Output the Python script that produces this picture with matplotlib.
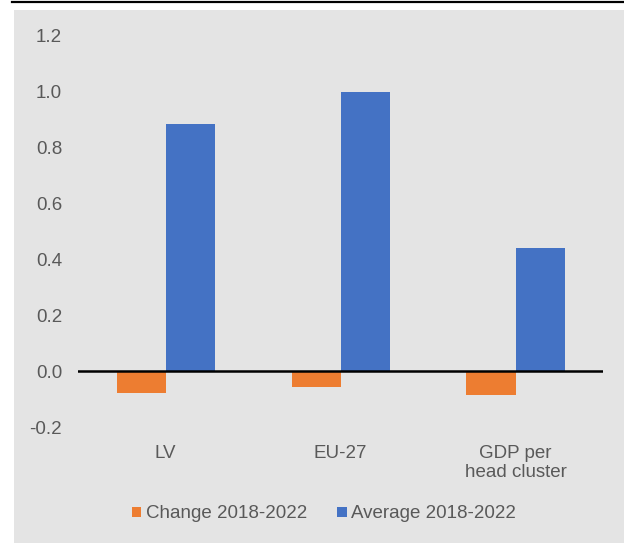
import matplotlib
matplotlib.use("Agg")
import matplotlib.pyplot as plt
from matplotlib.patches import Rectangle
from matplotlib.lines import Line2D
import numpy as np

categories = ["LV", "EU-27", "GDP per\nhead cluster"]
change_2018_2022 = [-0.080, -0.058, -0.087]
average_2018_2022 = [0.885, 1.0, 0.44]
yticks = [-0.2, 0.0, 0.2, 0.4, 0.6, 0.8, 1.0, 1.2]

plt.rcParams["font.family"] = ["Liberation Sans", "DejaVu Sans"]
text_color = "#595959"
orange = "#ED7D31"
blue = "#4472C4"
panel = "#E4E4E4"

fig = plt.figure(figsize=(6.24, 5.43), dpi=100)
fig.patch.set_facecolor("white")

# grey chart panel and the rule above it
fig.patches.append(Rectangle((14 / 624, 0), 1 - 14 / 624, 1 - 10 / 543,
                             transform=fig.transFigure, facecolor=panel,
                             edgecolor="none", zorder=-10))
fig.lines.append(Line2D([12 / 624, 1], [1 - 1.5 / 543, 1 - 1.5 / 543],
                        transform=fig.transFigure, color="black", lw=1.6))

ax = fig.add_axes([78 / 624, 1 - 427 / 543, (603 - 78) / 624, (427 - 36) / 543])
ax.set_facecolor("none")

x = np.arange(len(categories))
w = 0.28
ax.bar(x - w / 2, change_2018_2022, w, color=orange, label="Change 2018-2022", zorder=2)
ax.bar(x + w / 2, average_2018_2022, w, color=blue, label="Average 2018-2022", zorder=2)
ax.axhline(0, color="black", lw=1.8, zorder=3)

ax.set_xlim(-0.5, len(categories) - 0.5)
ax.set_ylim(-0.2, 1.2)
ax.set_yticks(yticks)
ax.set_yticklabels([f"{v:.1f}" for v in yticks])
ax.set_xticks(x)
ax.set_xticklabels(categories, linespacing=1.15)
ax.tick_params(axis="y", length=0, pad=11.5, labelsize=13.5, labelcolor=text_color)
ax.tick_params(axis="x", length=0, pad=13, labelsize=13.5, labelcolor=text_color)
for s in ax.spines.values():
    s.set_visible(False)

leg = fig.legend(loc="center", bbox_to_anchor=(324 / 624, 1 - 514 / 543), ncol=2,
                 frameon=False, fontsize=13.5, handlelength=0.5, handleheight=0.5,
                 handletextpad=0.25, columnspacing=1.6, labelcolor=text_color)

fig.savefig("out.png", dpi=100)
